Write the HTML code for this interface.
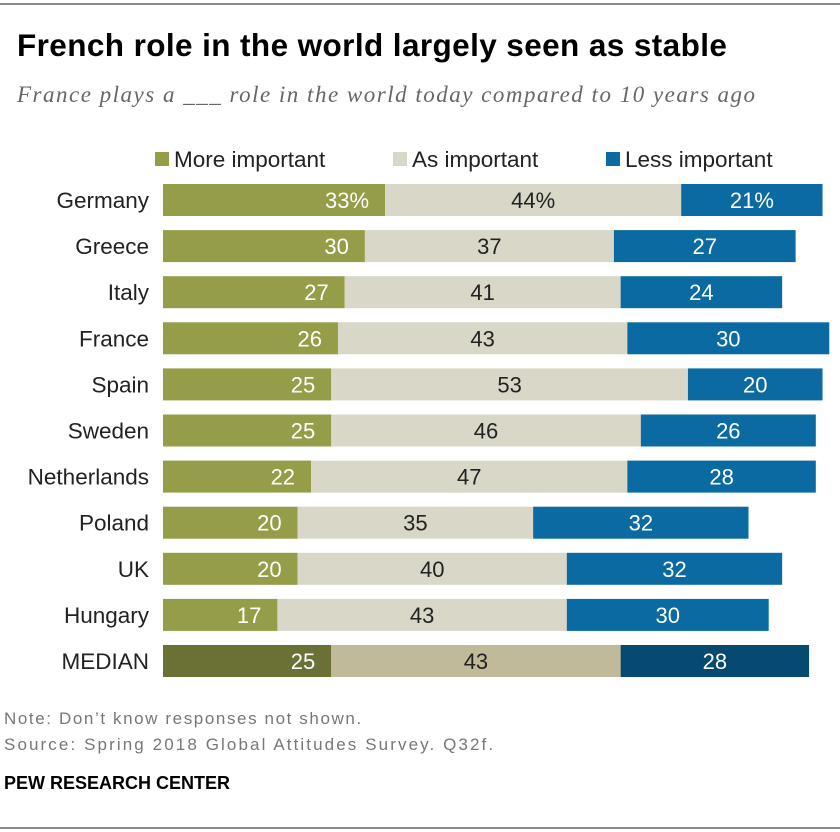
<!DOCTYPE html>
<html><head><meta charset="utf-8"><style>
body{margin:0;width:840px;height:832px;background:#fff;font-family:"Liberation Sans",sans-serif;position:relative;overflow:hidden}
.abs{position:absolute;white-space:nowrap}
</style></head><body>
<div class="abs" style="left:0;top:3px;width:840px;height:2px;background:#8a8a8a"></div>
<div class="abs" style="left:17px;top:27px;font-size:31.5px;font-weight:bold;color:#000;letter-spacing:0.4px">French role in the world largely seen as stable</div>
<div class="abs" style="left:17px;top:82px;font-size:23px;font-style:italic;font-family:'Liberation Serif',serif;color:#666;letter-spacing:1.5px">France plays a ___ role in the world today compared to 10 years ago</div>
<svg class="abs" style="left:0;top:0" width="840" height="832" id="chart"></svg>
<div class="abs" style="left:4px;top:709px;font-size:17px;color:#777;letter-spacing:1.6px">Note: Don’t know responses not shown.</div>
<div class="abs" style="left:4px;top:735px;font-size:17px;color:#777;letter-spacing:2.1px">Source: Spring 2018 Global Attitudes Survey. Q32f.</div>
<div class="abs" style="left:4px;top:773px;font-size:18px;font-weight:bold;color:#000">PEW RESEARCH CENTER</div>
<div class="abs" style="left:0;top:827px;width:840px;height:2px;background:#8a8a8a"></div>
<script>
const categories=["Germany","Greece","Italy","France","Spain","Sweden","Netherlands","Poland","UK","Hungary","MEDIAN"];
const more=[33,30,27,26,25,25,22,20,20,17,25];
const same=[44,37,41,43,53,46,47,35,40,43,43];
const less=[21,27,24,30,20,26,28,32,32,30,28];
const legendLabels=["More important","As important","Less important"];
const svg=document.getElementById('chart');
const NS="http://www.w3.org/2000/svg";
const x0=163,scale=6.73,y0=200,step=46.1,bh=32;
const xs=v=>v*scale, yc=i=>y0+i*step;
function mk(tag,attrs,parent){const e=document.createElementNS(NS,tag);for(const k in attrs)e.setAttribute(k,attrs[k]);(parent||svg).appendChild(e);return e;}
const cols=[["#959d48","#d9d7c8","#0b6aa1"],["#6b7035","#c0b99a","#064a72"]];
const lx=[155,393,606];
legendLabels.forEach((l,j)=>{
  const r=mk('rect',{x:lx[j],y:152,width:14,height:14,fill:cols[0][j]});
  
  
  const t=mk('text',{x:lx[j]+19,y:167,'font-size':22.5,fill:'#222'});
  t.textContent=l;
  
  
});
categories.forEach((c,i)=>{
  const cy=yc(i),isMed=c==="MEDIAN",cc=cols[isMed?1:0];
  const lab=mk('text',{x:149,y:cy+8,'text-anchor':'end','font-size':22.5,fill:'#222'});
  lab.textContent=c;
  
  
  const vals=[more[i],same[i],less[i]];let x=x0;
  vals.forEach((v,j)=>{
    const w=xs(v);
    const r=mk('rect',{x:x,y:cy-bh/2,width:w,height:bh,fill:cc[j]});
    
    
    const txt=(i===0)?v+'%':String(v);
    const t=mk('text',{y:cy+8,'font-size':22,fill:j===1?'#222':'#fff'});
    if(j===0){t.setAttribute('x',x+w-16);t.setAttribute('text-anchor','end');}
    else{t.setAttribute('x',x+w/2);t.setAttribute('text-anchor','middle');}
    t.textContent=txt;
    
    
    x+=w;
  });
});
</script>
</body></html>
